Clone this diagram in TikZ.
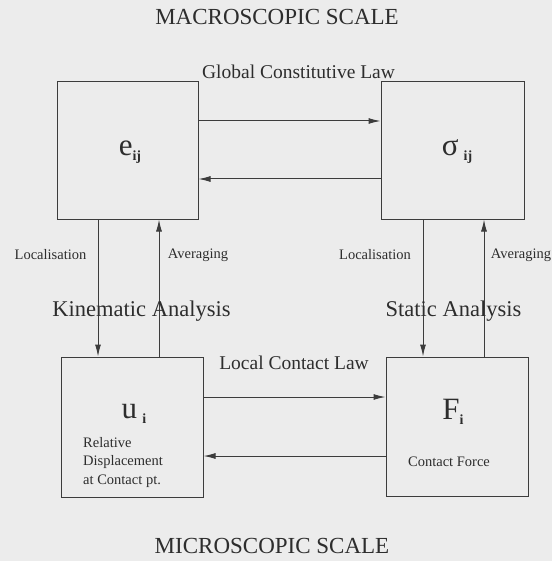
\documentclass[tikz,border=0pt]{standalone}
\usepackage{fontspec}
\setmainfont{Liberation Serif}
\usepackage{tikz}
\usetikzlibrary{arrows.meta,positioning}
\definecolor{paper}{RGB}{236,236,236}
\definecolor{ink}{RGB}{60,60,60}
\definecolor{txt}{RGB}{45,45,45}
\tikzset{
  box/.style={draw=ink, line width=1pt, inner sep=0pt},
  flow/.style={draw=ink, line width=1pt, -{Latex[length=12pt,width=6pt]}},
  scale lbl/.style={text=txt, font=\fontsize{23}{26}\selectfont},
  law lbl/.style={text=txt, font=\fontsize{19.5}{22}\selectfont},
  ana lbl/.style={text=txt, font=\fontsize{22.5}{25}\selectfont},
  small lbl/.style={text=txt, font=\fontsize{14.5}{18.5}\selectfont},
  var lbl/.style={text=txt, font=\fontsize{31}{33}\selectfont}
}
\newcommand{\sbs}[1]{\raisebox{-0.35ex}{\fontsize{14}{16}\selectfont\bfseries #1}}

\begin{document}
\begin{tikzpicture}[x=1pt, y=-1pt]
  \useasboundingbox (0,0) rectangle (552,561);
  \fill[paper] (0,0) rectangle (552,561);
  % Scale titles
  \node[scale lbl] (macro) at (277,17) {MACROSCOPIC SCALE};
  \node[scale lbl] (micro) at (272,546) {MICROSCOPIC SCALE};
  % Top boxes
  \node[box, minimum width=141pt, minimum height=137pt] (e) at (127.5,150.5) {};
  \node[box, minimum width=143pt, minimum height=137pt] (s) at (452.5,150.5) {};
  % Bottom boxes
  \node[box, minimum width=142pt, minimum height=140pt] (u) at (132,427) {};
  \node[box, minimum width=142pt, minimum height=139pt] (f) at (457,426.5) {};
  % Box contents
  \node[var lbl] (elbl) at (130,152) {e\sbs{ij}};
  \node[var lbl] (slbl) at (457,152) {σ\,\sbs{ij}};
  \node[var lbl] (ulbl) at (134,414) {u\,\sbs{i}};
  \node[var lbl] (flbl) at (453,412) {F\sbs{i}};
  \node[small lbl, anchor=north west, align=left, inner sep=0pt] (udesc) at (83,437) {Relative\\Displacement\\at Contact pt.};
  \node[small lbl] (fdesc) at (449,462) {Contact Force};
  % Laws
  \node[law lbl] (glaw) at (298.5,72) {Global Constitutive Law};
  \node[law lbl] (llaw) at (294,363) {Local Contact Law};
  % Horizontal arrows
  \draw[flow] (e.east |- 0,121) -- (s.west |- 0,121);
  \draw[flow] (s.west |- 0,179) -- (e.east |- 0,179);
  \draw[flow] (u.east |- 0,397) -- (f.west |- 0,397);
  \draw[flow] (f.west |- 0,456) -- (u.east |- 0,456);
  % Vertical arrows
  \draw[flow] (e.south -| 98,0) -- (u.north -| 98,0);
  \draw[flow] (u.north -| 159,0) -- (e.south -| 159,0);
  \draw[flow] (s.south -| 423,0) -- (f.north -| 423,0);
  \draw[flow] (f.north -| 484,0) -- (s.south -| 484,0);
  % Arrow labels
  \node[small lbl] (loc1) at (50.5,255) {Localisation};
  \node[small lbl] (avg1) at (198,255) {Averaging};
  \node[small lbl] (loc2) at (375,255) {Localisation};
  \node[small lbl] (avg2) at (521,255) {Averaging};
  \node[ana lbl] (kin) at (141.5,311) {Kinematic Analysis};
  \node[ana lbl] (sta) at (453.5,311) {Static Analysis};
\end{tikzpicture}
\end{document}
